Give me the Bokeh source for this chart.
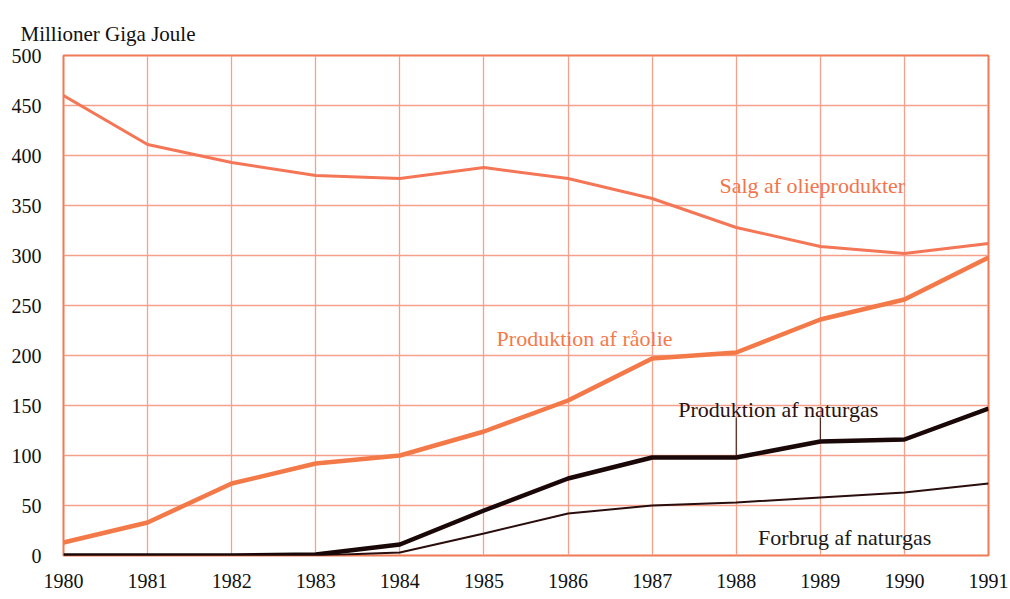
from bokeh.plotting import figure
from bokeh.models import FixedTicker, ColumnDataSource
from bokeh.core.properties import value
from bokeh.embed import file_html
from bokeh.resources import INLINE

years = [1980, 1981, 1982, 1983, 1984, 1985, 1986, 1987, 1988, 1989, 1990, 1991]
salg_olie = [460, 411, 393, 380, 377, 388, 377, 357, 328, 309, 302, 312]
prod_raolie = [13, 33, 72, 92, 100, 124, 155, 197, 203, 236, 256, 298]
prod_naturgas = [0, 0, 0, 1, 11, 45, 77, 98, 98, 114, 116, 147]
forbrug_naturgas = [0, 0, 0, 0, 3, 22, 42, 50, 53, 58, 63, 72]
y_ticks = [0, 50, 100, 150, 200, 250, 300, 350, 400, 450, 500]

label_names = ["Salg af olieprodukter", "Produktion af råolie", "Produktion af naturgas", "Forbrug af naturgas"]
label_x = [1987.80, 1985.15, 1987.31, 1988.26]
label_y = [370, 217, 146, 18]
label_colors = ["#f2744e", "#f47a4a", "#2a1010", "#1a1a1a"]

leader_x = [1988, 1989]
leader_y0 = [98, 114]
leader_y1 = [138, 138]

FONT = "Liberation Serif"

p = figure(width=1008, height=591, x_range=(1980, 1991), y_range=(0, 500),
           output_backend="svg", toolbar_location=None,
           title="Millioner Giga Joule",
           min_border_left=63, min_border_right=20, min_border_top=55, min_border_bottom=36)

p.title.align = "left"
p.title.offset = -43
p.title.standoff = 20
p.title.text_font = FONT
p.title.text_font_size = "21px"
p.title.text_font_style = "normal"
p.title.text_color = "#111111"

p.outline_line_color = "#f07a55"
p.outline_line_width = 2

p.xgrid.ticker = FixedTicker(ticks=years)
p.ygrid.ticker = FixedTicker(ticks=y_ticks)
for g in (p.xgrid, p.ygrid):
    g.grid_line_color = "#f6a08c"
    g.grid_line_width = 1.3

p.xaxis.ticker = FixedTicker(ticks=years)
p.yaxis.ticker = FixedTicker(ticks=y_ticks)
for ax in (p.xaxis, p.yaxis):
    ax.axis_line_color = None
    ax.major_tick_line_color = None
    ax.minor_tick_line_color = None
    ax.major_label_text_font = FONT
    ax.major_label_text_font_size = "20px"
    ax.major_label_text_color = "#111111"
p.xaxis.major_label_standoff = 12
p.yaxis.major_label_standoff = 16

p.line(years, salg_olie, line_color="#f47656", line_width=3)
p.line(years, prod_raolie, line_color="#f37a48", line_width=4.5)
p.line(years, forbrug_naturgas, line_color="#2a0d0d", line_width=2)
p.line(years, prod_naturgas, line_color="#1a0808", line_width=4.5)

p.segment(x0=leader_x, y0=leader_y0, x1=leader_x, y1=leader_y1, line_color="#2a1010", line_width=1)

src = ColumnDataSource(dict(x=label_x, y=label_y, t=label_names, c=label_colors))
p.text(x="x", y="y", text="t", text_color="c", source=src,
       text_font=value(FONT), text_font_size="22px",
       text_align="left", text_baseline="middle")

open("out.html", "w").write(file_html(p, INLINE))
